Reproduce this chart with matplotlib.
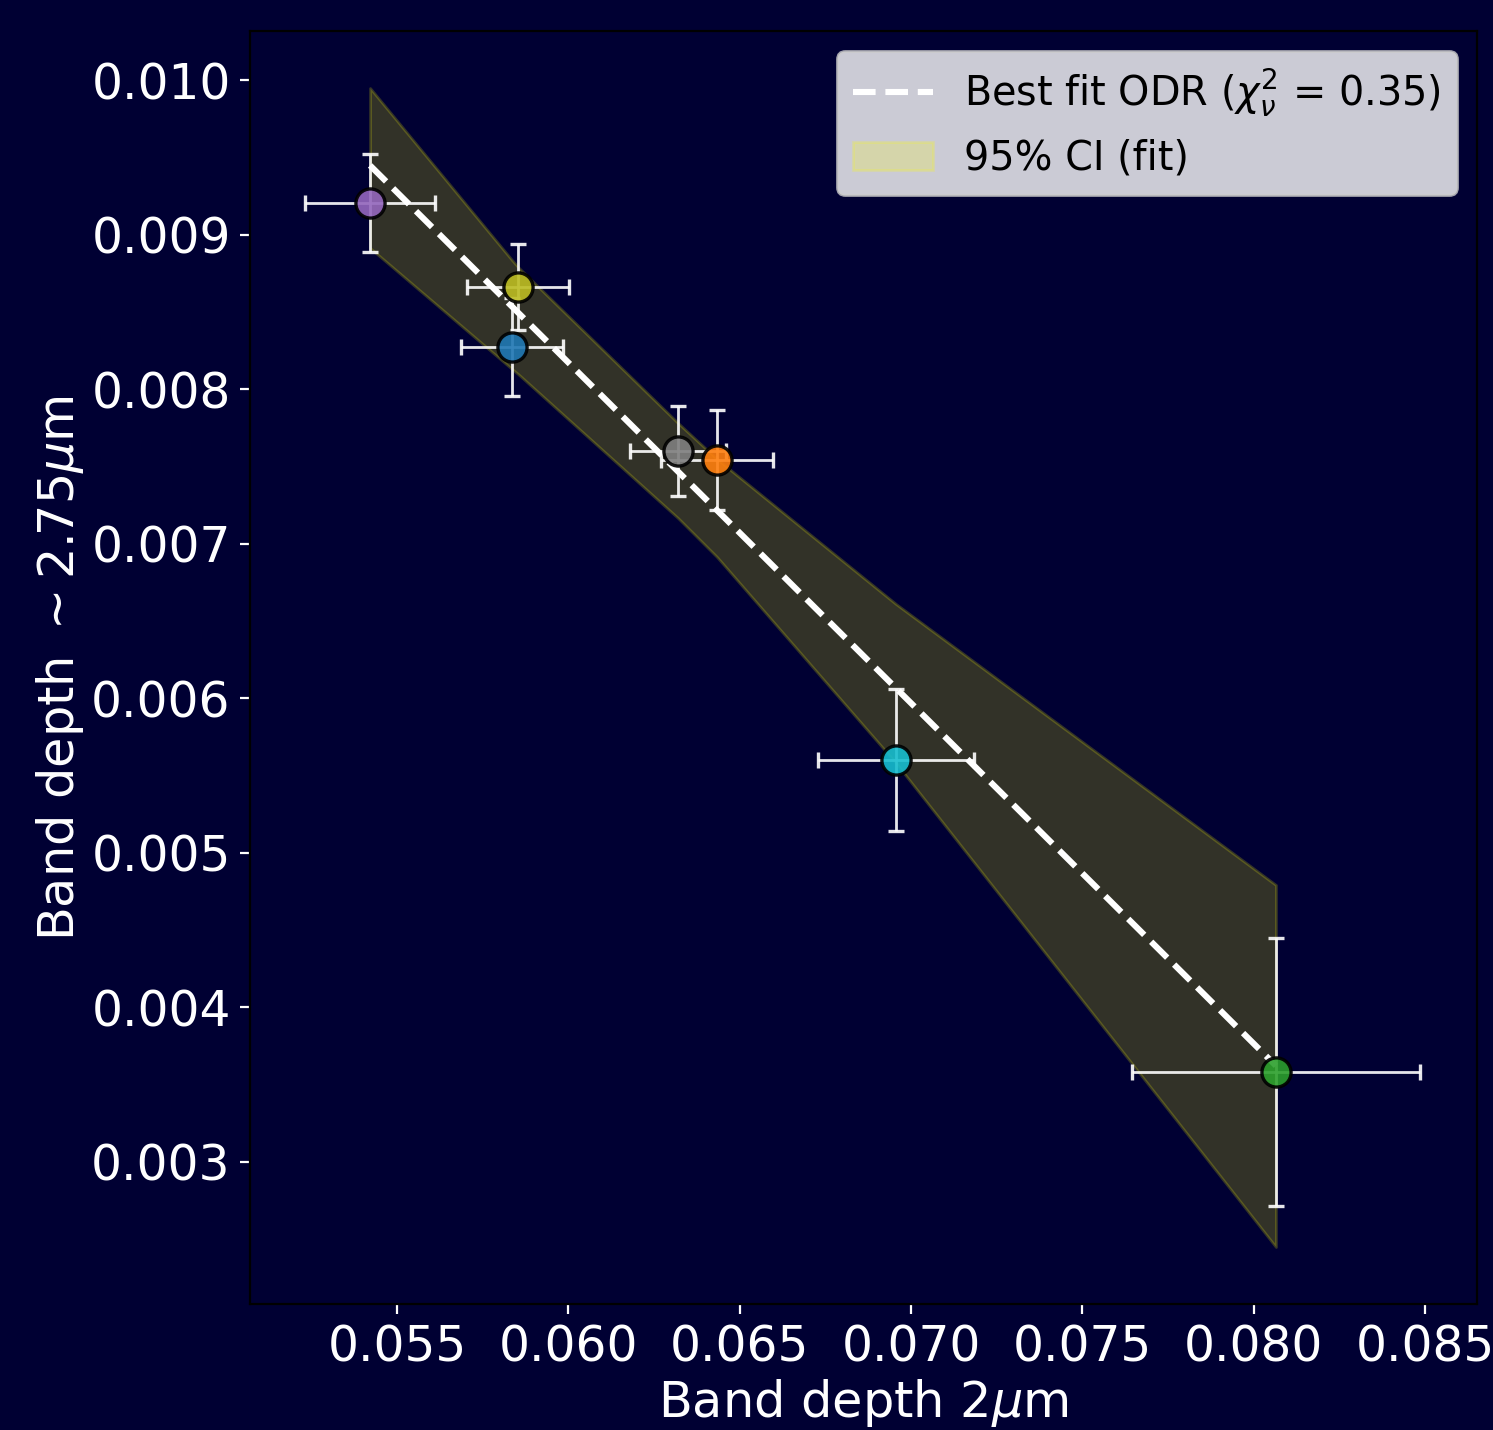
import matplotlib
matplotlib.use('Agg')
import matplotlib.pyplot as plt
import numpy as np

# medidas de profundidade de banda (2 um vs ~2.75 um)
bd_2um = [0.054212, 0.058531, 0.058356, 0.0632, 0.064338, 0.069562, 0.080651]
bd_275um = [0.009204, 0.008661, 0.008273, 0.0076, 0.007542, 0.005601, 0.003582]
err_2um = [0.0019, 0.00149, 0.00149, 0.0014, 0.00163, 0.00228, 0.0042]
err_275um = [0.000317, 0.000281, 0.000317, 0.000291, 0.000323, 0.000459, 0.000867]
cores = ['#9467bd', '#bcbd22', '#1f77b4', '#7f7f7f', '#ff7f0e', '#17becf', '#2ca02c']

# ajuste ODR e intervalo de confianca de 95%
coef_angular = -0.2203
coef_linear = 0.02139
chi2_red = 0.35
x_banda = [0.054212, 0.058356, 0.058531, 0.0632, 0.064338, 0.069562, 0.080651]
ic_sup = [0.009948, 0.008835, 0.008790, 0.007781, 0.007548, 0.006610, 0.004792]
ic_inf = [0.008913, 0.008130, 0.008098, 0.007166, 0.006914, 0.005581, 0.002450]

fundo = '#000033'

fig = plt.figure(figsize=(7.465, 7.15), dpi=200, facecolor=fundo)
ax = fig.add_axes([0.1675, 0.0881, 0.8218, 0.8902])
ax.set_facecolor(fundo)

x_fit = np.array(x_banda)
ax.plot(x_fit, coef_linear + coef_angular * x_fit, '--', color='white', lw=2.2,
        label=r'Best fit ODR ($\chi^2_\nu$ = %.2f)' % chi2_red, zorder=3)
ax.fill_between(x_banda, ic_inf, ic_sup, color='yellow', alpha=0.2,
                label='95% CI (fit)', zorder=1)

for i in range(len(bd_2um)):
    ax.errorbar(bd_2um[i], bd_275um[i], xerr=err_2um[i], yerr=err_275um[i],
                fmt='o', color=cores[i], mec='black', mew=1.2, ms=10.5,
                ecolor='white', elinewidth=1, capsize=3, alpha=0.9, zorder=4)

ax.set_xlim(0.05071, 0.08652)
ax.set_ylim(0.002081, 0.010317)
ax.set_xticks([0.055, 0.060, 0.065, 0.070, 0.075, 0.080, 0.085])

ax.set_xlabel(r'Band depth 2$\mu$m', color='white', fontsize=17.8, labelpad=2)
ax.set_ylabel(r'Band depth $\sim$2.75$\mu$m', color='white', fontsize=17.8, labelpad=2)
ax.tick_params(colors='white', labelsize=17.5)
for s in ax.spines.values():
    s.set_color('black')

leg = ax.legend(loc='upper right', fontsize=14.3)

fig.savefig('out.png', dpi=200, facecolor=fundo)
